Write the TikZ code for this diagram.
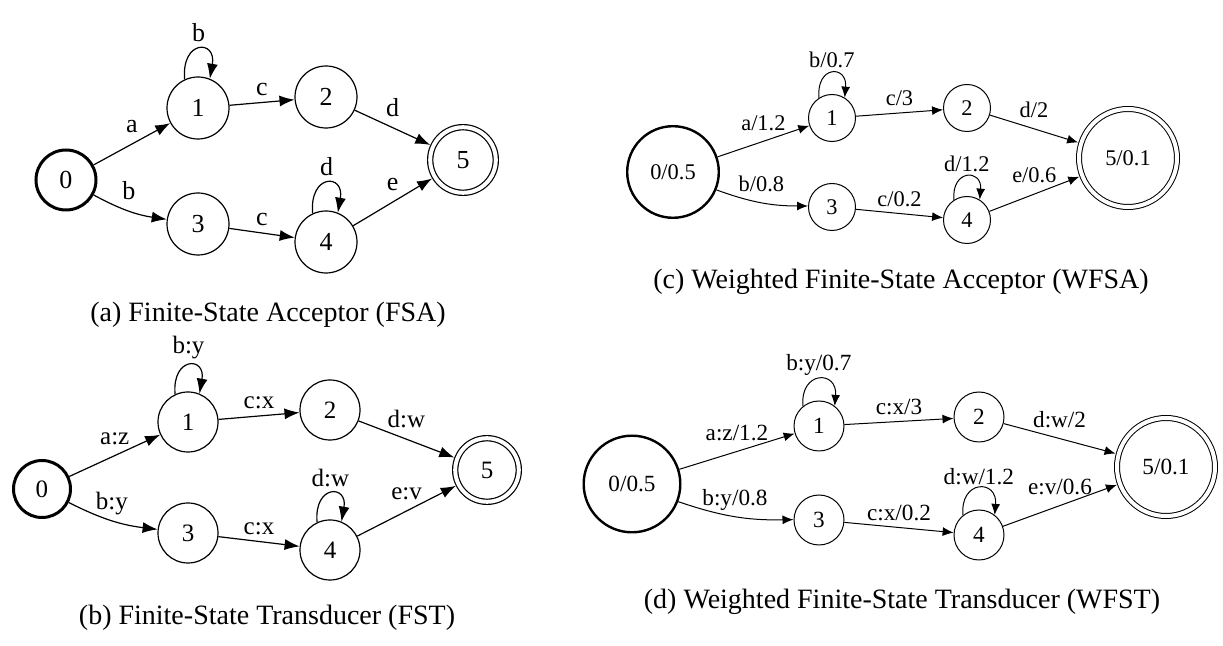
\documentclass[tikz,border=0pt]{standalone}
\usepackage{fontspec}
\setmainfont{Liberation Serif}
\usetikzlibrary{arrows.meta}

\tikzset{
	st/.style={circle, draw, inner sep=0pt},
	initst/.style={st, line width=1.5pt},
	finalst/.style={st, double, double distance=2pt, outer sep=1.6pt},
	lab/.style={above, text depth=0pt},
	slab/.style={above=2pt, text depth=0pt},
	llab/.style={above},
	subcap/.style={font=\fontsize{14}{16}\selectfont},
}

\begin{document}
\begin{tikzpicture}[x=0.5pt,y=0.5pt]
	\useasboundingbox (0,0) rectangle (1223,-646);
	% (a) FSA
	\begin{scope}[line width=0.6pt, >={Latex[length=7.5pt,width=5.5pt]},
		every node/.append style={font=\fontsize{13}{15}\selectfont},
		st/.append style={minimum size=31pt}]
		\node[initst, minimum size=30pt] (a0) at (66,-180) {0};
		\node[st] (a1) at (198,-108) {1};
		\node[st] (a2) at (326,-97) {2};
		\node[st] (a3) at (198,-224) {3};
		\node[st] (a4) at (326,-242) {4};
		\node[finalst, minimum size=32.8pt] (a5) at (463,-160) {5};
		\draw[->] (a0) -- node[slab] {a} (a1);
		\draw[->] (a0) to[bend right=10] node[slab] {b} (a3);
		\draw[->] (a1) -- node[lab] {c} (a2);
		\draw[->] (a2) -- node[slab] {d} (a5);
		\draw[->] (a3) -- node[lab] {c} (a4);
		\draw[->] (a4) -- node[slab] {e} (a5);
		\draw[->] (a1.115) to[out=95,in=80,distance=20pt] node[llab] {b} (a1.68);
		\draw[->] (a4.115) to[out=95,in=80,distance=20pt] node[llab] {d} (a4.68);
	\end{scope}
	\node[subcap] (capa) at (268,-315) {(a) Finite-State Acceptor (FSA)};
	% (b) FST
	\begin{scope}[line width=0.6pt, >={Latex[length=7.5pt,width=5.5pt]},
		every node/.append style={font=\fontsize{12.5}{14}\selectfont},
		st/.append style={minimum size=30pt}]
		\node[initst, minimum size=28.5pt] (b0) at (42,-489) {0};
		\node[st] (b1) at (188,-422) {1};
		\node[st] (b2) at (330,-410) {2};
		\node[st] (b3) at (188,-533) {3};
		\node[st] (b4) at (330,-550) {4};
		\node[finalst, minimum size=31.8pt] (b5) at (487,-470) {5};
		\draw[->] (b0) -- node[slab] {a:z} (b1);
		\draw[->] (b0) to[bend right=10] node[slab] {b:y} (b3);
		\draw[->] (b1) -- node[lab] {c:x} (b2);
		\draw[->] (b2) -- node[slab] {d:w} (b5);
		\draw[->] (b3) -- node[lab] {c:x} (b4);
		\draw[->] (b4) -- node[slab] {e:v} (b5);
		\draw[->] (b1.115) to[out=95,in=80,distance=19pt] node[llab] {b:y} (b1.68);
		\draw[->] (b4.115) to[out=95,in=80,distance=19pt] node[llab] {d:w} (b4.68);
	\end{scope}
	\node[subcap] (capb) at (267,-618) {(b) Finite-State Transducer (FST)};
	% (c) WFSA
	\begin{scope}[line width=0.5pt, >={Latex[length=5.5pt,width=4.5pt]},
		every node/.append style={font=\fontsize{11.2}{13}\selectfont},
		st/.append style={minimum size=23.5pt}, initst/.append style={line width=1.2pt},
		llab/.append style={above=-1pt}]
		\node[initst, minimum size=45.8pt] (c0) at (673,-172) {0/0.5};
		\node[st] (c1) at (832,-118) {1};
		\node[st] (c2) at (967,-108) {2};
		\node[st] (c3) at (832,-207) {3};
		\node[st] (c4) at (967,-220) {4};
		\node[finalst, minimum size=49pt] (c5) at (1128,-158) {5/0.1};
		\draw[->] (c0) -- node[slab] {a/1.2} (c1);
		\draw[->] (c0) to[bend right=10] node[slab] {b/0.8} (c3);
		\draw[->] (c1) -- node[lab] {c/3} (c2);
		\draw[->] (c2) -- node[slab] {d/2} (c5);
		\draw[->] (c3) -- node[lab] {c/0.2} (c4);
		\draw[->] (c4) -- node[slab] {e/0.6} (c5);
		\draw[->] (c1.123) to[out=95,in=85,distance=16.5pt] node[llab] {b/0.7} (c1.58);
		\draw[->] (c4.123) to[out=95,in=85,distance=15.5pt] node[llab] {d/1.2} (c4.58);
	\end{scope}
	\node[subcap] (capc) at (901,-282) {(c) Weighted Finite-State Acceptor (WFSA)};
	% (d) WFST
	\begin{scope}[line width=0.5pt, >={Latex[length=5.5pt,width=4.5pt]},
		every node/.append style={font=\fontsize{11.6}{13}\selectfont},
		st/.append style={minimum size=25pt}, initst/.append style={line width=1.2pt},
		llab/.append style={above=-2pt}]
		\node[initst, minimum size=48.3pt] (d0) at (632,-484) {0/0.5};
		\node[st] (d1) at (819,-426) {1};
		\node[st] (d2) at (979,-417) {2};
		\node[st] (d3) at (819,-520) {3};
		\node[st] (d4) at (979,-535) {4};
		\node[finalst, minimum size=49pt] (d5) at (1166,-467) {5/0.1};
		\draw[->] (d0) -- node[slab] {a:z/1.2} (d1);
		\draw[->] (d0) to[bend right=10] node[slab] {b:y/0.8} (d3);
		\draw[->] (d1) -- node[lab] {c:x/3} (d2);
		\draw[->] (d2) -- node[slab] {d:w/2} (d5);
		\draw[->] (d3) -- node[lab] {c:x/0.2} (d4);
		\draw[->] (d4) -- node[slab] {e:v/0.6} (d5);
		\draw[->] (d1.129) to[out=95,in=85,distance=18pt] node[llab] {b:y/0.7} (d1.52);
		\draw[->] (d4.129) to[out=95,in=85,distance=18pt] node[llab] {d:w/1.2} (d4.52);
	\end{scope}
	\node[subcap] (capd) at (902,-602) {(d) Weighted Finite-State Transducer (WFST)};
\end{tikzpicture}
\end{document}
